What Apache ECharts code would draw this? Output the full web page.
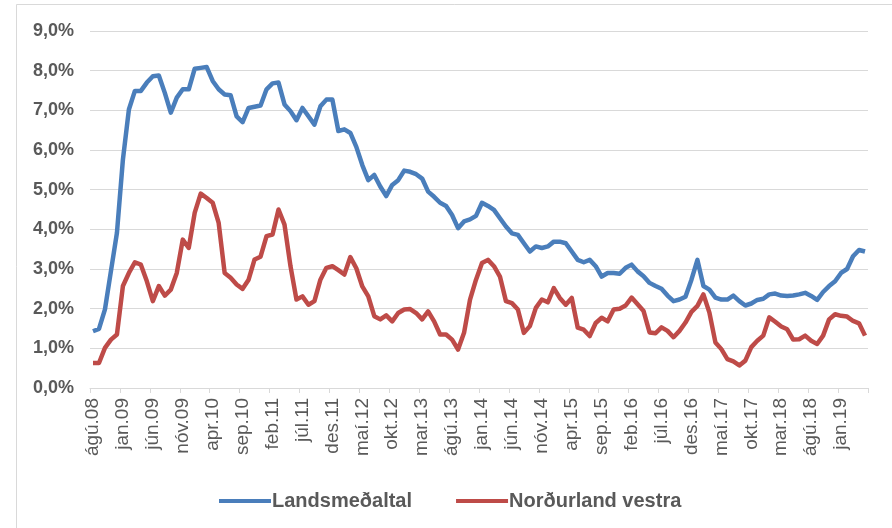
<!DOCTYPE html>
<html>
<head>
<meta charset="utf-8">
<script src="https://cdn.jsdelivr.net/npm/echarts@6/dist/echarts.min.js"></script>
<style>
  html, body { margin: 0; padding: 0; background: #ffffff; }
  #chart { width: 892px; height: 528px; }
</style>
</head>
<body>
<div id="chart"></div>
<script>
// monthly categories, ágú.08 .. maí.19
var monthNames = ['jan', 'feb', 'mar', 'apr', 'maí', 'jún', 'júl', 'ágú', 'sep', 'okt', 'nóv', 'des'];
var startYear = 2008, startMonth = 7, monthCount = 130;
var categories = [];
for (var k = 0; k < monthCount; k++) {
  var m = (startMonth + k) % 12;
  var y = startYear + Math.floor((startMonth + k) / 12);
  categories.push(monthNames[m] + '.' + String(y).slice(2));
}

var yTicks = [0, 1, 2, 3, 4, 5, 6, 7, 8, 9];

var landsmedaltal = [
  1.43, 1.49, 1.98, 2.95, 3.91, 5.76, 7.02, 7.49, 7.49, 7.70,
  7.86, 7.88, 7.44, 6.94, 7.32, 7.53, 7.53, 8.05, 8.07, 8.09,
  7.74, 7.53, 7.40, 7.38, 6.85, 6.70, 7.06, 7.09, 7.12, 7.53,
  7.68, 7.70, 7.15, 6.98, 6.75, 7.06, 6.85, 6.64, 7.10, 7.27,
  7.27, 6.48, 6.52, 6.43, 6.08, 5.62, 5.24, 5.37, 5.08, 4.84,
  5.12, 5.24, 5.48, 5.45, 5.39, 5.28, 4.95, 4.82, 4.67, 4.59,
  4.36, 4.03, 4.20, 4.25, 4.34, 4.67, 4.59, 4.49, 4.28, 4.07,
  3.90, 3.86, 3.65, 3.44, 3.57, 3.53, 3.57, 3.69, 3.69, 3.65,
  3.44, 3.23, 3.17, 3.23, 3.07, 2.81, 2.90, 2.90, 2.88, 3.03,
  3.11, 2.94, 2.82, 2.65, 2.57, 2.50, 2.33, 2.19, 2.23, 2.30,
  2.73, 3.23, 2.57, 2.48, 2.28, 2.23, 2.23, 2.33, 2.19, 2.08,
  2.13, 2.22, 2.25, 2.36, 2.38, 2.33, 2.32, 2.33, 2.36, 2.40,
  2.32, 2.22, 2.42, 2.57, 2.69, 2.90, 3.00, 3.32, 3.48, 3.44
];

var nordurlandVestra = [
  0.63, 0.63, 1.01, 1.22, 1.35, 2.57, 2.90, 3.17, 3.11, 2.69,
  2.19, 2.57, 2.33, 2.48, 2.90, 3.74, 3.53, 4.42, 4.90, 4.79,
  4.67, 4.16, 2.90, 2.78, 2.61, 2.50, 2.73, 3.24, 3.31, 3.83,
  3.87, 4.50, 4.12, 3.07, 2.23, 2.31, 2.10, 2.19, 2.73, 3.03,
  3.07, 2.97, 2.86, 3.30, 3.02, 2.56, 2.31, 1.81, 1.73, 1.83,
  1.68, 1.89, 1.98, 1.99, 1.89, 1.73, 1.93, 1.68, 1.35, 1.35,
  1.22, 0.97, 1.39, 2.23, 2.73, 3.15, 3.23, 3.07, 2.81, 2.19,
  2.14, 1.98, 1.39, 1.56, 2.02, 2.23, 2.16, 2.52, 2.27, 2.10,
  2.27, 1.52, 1.47, 1.31, 1.64, 1.77, 1.68, 1.98, 2.00, 2.08,
  2.28, 2.11, 1.94, 1.40, 1.38, 1.53, 1.44, 1.28, 1.44, 1.65,
  1.92, 2.07, 2.36, 1.90, 1.15, 0.98, 0.73, 0.67, 0.57, 0.69,
  1.03, 1.19, 1.32, 1.78, 1.67, 1.55, 1.48, 1.22, 1.23, 1.32,
  1.19, 1.11, 1.32, 1.73, 1.86, 1.82, 1.80, 1.69, 1.63, 1.32
];

var chart = echarts.init(document.getElementById('chart'), null, { renderer: 'canvas' });
var font = '"Liberation Sans", Arial, sans-serif';
var option = {
  backgroundColor: '#ffffff',
  animation: false,
  color: ['#4a7ebb', '#be4b48'],
  graphic: [{
    type: 'rect',
    shape: { x: 16.5, y: 4.5, width: 900, height: 600 },
    style: { fill: 'none', stroke: '#d9d9d9', lineWidth: 1 },
    silent: true
  }],
  grid: { left: 90, right: 24, top: 31, bottom: 140 },
  legend: {
    top: 486,
    left: 214,
    icon: 'rect',
    itemWidth: 52,
    itemHeight: 4,
    itemGap: 44,
    textStyle: { fontFamily: font, fontSize: 20, fontWeight: 'bold', color: '#595959', padding: [0, 0, 0, -4] },
    data: ['Landsmeðaltal', 'Norðurland vestra']
  },
  xAxis: {
    type: 'category',
    boundaryGap: true,
    data: categories,
    axisLine: { show: true, lineStyle: { color: '#d9d9d9', width: 1 } },
    axisTick: { show: true, interval: 4, length: 5, lineStyle: { color: '#d9d9d9' } },
    axisLabel: {
      interval: 4,
      rotate: 90,
      margin: 10,
      fontFamily: font,
      fontSize: 19,
      color: '#595959'
    },
    splitLine: { show: false }
  },
  yAxis: {
    type: 'value',
    min: yTicks[0],
    max: yTicks[yTicks.length - 1],
    interval: 1,
    axisLine: { show: false },
    axisTick: { show: false },
    axisLabel: {
      margin: 16,
      fontFamily: font,
      fontSize: 18,
      fontWeight: 'bold',
      color: '#595959',
      formatter: function (v) { return v.toFixed(1).replace('.', ',') + '%'; }
    },
    splitLine: { lineStyle: { color: '#d9d9d9', width: 1 } }
  },
  series: [
    {
      name: 'Landsmeðaltal',
      type: 'line',
      data: landsmedaltal,
      symbol: 'none',
      lineStyle: { width: 4.5, color: '#4a7ebb', join: 'round' },
      itemStyle: { color: '#4a7ebb' },
      z: 3
    },
    {
      name: 'Norðurland vestra',
      type: 'line',
      data: nordurlandVestra,
      symbol: 'none',
      lineStyle: { width: 4.5, color: '#be4b48', join: 'round' },
      itemStyle: { color: '#be4b48' },
      z: 2
    }
  ]
};
chart.setOption(option);
</script>
</body>
</html>
